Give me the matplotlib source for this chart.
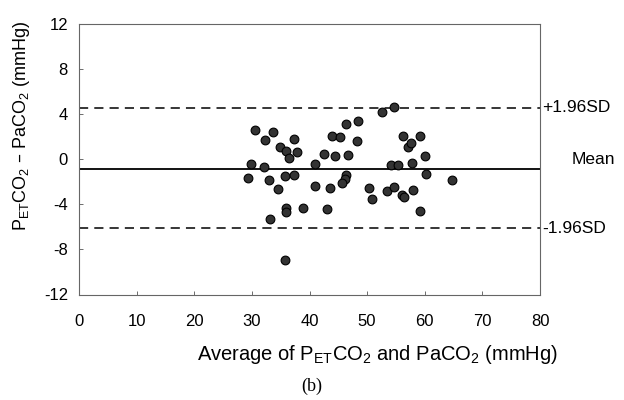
import numpy as np
import matplotlib.pyplot as plt

# Bland-Altman data
avg = [29.3, 29.9, 30.6, 32.2, 32.1, 33.0, 33.7, 34.6, 34.8, 35.9,
       36.4, 37.3, 37.9, 35.8, 37.3, 35.9, 35.9, 33.2, 38.8, 35.7,
       41.0, 41.0, 43.1, 43.5, 42.6, 43.9, 45.3, 46.3, 48.5, 48.3,
       44.4, 46.7, 46.3, 46.1, 45.7, 50.4, 50.8, 52.6, 54.6, 56.2,
       59.1, 57.1, 57.7, 60.1, 57.8, 54.1, 55.4, 60.3, 64.7, 53.4,
       54.6, 56.0, 56.4, 58.0, 59.1]
diff = [-1.64, -0.39, 2.62, 1.68, -0.69, -1.84, 2.39, -2.67, 1.09, 0.76,
        0.14, 1.80, 0.62, -1.51, -1.37, -4.35, -4.71, -5.28, -4.35, -8.94,
        -2.35, -0.39, -4.44, -2.52, 0.44, 2.06, 1.95, 3.13, 3.37, 1.59,
        0.29, 0.40, -1.37, -1.78, -2.08, -2.55, -3.50, 4.19, 4.66, 2.06,
        2.06, 1.09, 1.40, 0.26, -0.31, -0.51, -0.51, -1.28, -1.84, -2.82,
        -2.46, -3.20, -3.32, -2.70, -4.60]

mean_diff = -0.85
upper = 4.55
lower = -6.1

xticks = [0, 10, 20, 30, 40, 50, 60, 70, 80]
yticks = [-12, -8, -4, 0, 4, 8, 12]

plt.rcParams['font.family'] = ['Liberation Sans', 'DejaVu Sans']
plt.rcParams['axes.unicode_minus'] = False

fig = plt.figure(figsize=(6.24, 4.0), dpi=100)
ax = fig.add_axes([79/624, 1-294.5/400, 461/624, 270.5/400])

ax.plot(avg, diff, 'o', ms=6.3, mfc='#333333', mec='black', mew=0.8, zorder=3)
ax.axhline(mean_diff, color='black', lw=1.3)
ax.axhline(upper, color='black', lw=1.1, ls=(0, (6, 4)))
ax.axhline(lower, color='black', lw=1.1, ls=(0, (6, 4)))

ax.set_xlim(0, 80)
ax.set_ylim(-12, 12)
ax.set_xticks(xticks)
ax.set_yticks(yticks)
ax.tick_params(direction='in', length=3, labelsize=12, width=0.6, color='#555555')
ax.tick_params(axis='x', pad=14)
ax.tick_params(axis='y', pad=8)
for s in ax.spines.values():
    s.set_color('#666666')
    s.set_linewidth(0.8)

# labels on the right
trans = ax.get_yaxis_transform()
ax.text(1.005, upper, '+1.96SD', transform=trans, ha='left', va='center', fontsize=12.5)
ax.text(1.115, mean_diff + 0.85, 'Mean', transform=trans, ha='center', va='center', fontsize=12.5)
ax.text(1.005, lower, '-1.96SD', transform=trans, ha='left', va='center', fontsize=12.5)

fig.text(22/624, 1-126/400, 'P$_{\\mathregular{ET}}$CO$_{\\mathregular{2}}$ \u2013 PaCO$_{\\mathregular{2}}$ (mmHg)',
         rotation=90, ha='center', va='center', fontsize=13)
fig.text(377/624, 1-355/400, 'Average of P$_{\\mathregular{ET}}$CO$_{\\mathregular{2}}$ and PaCO$_{\\mathregular{2}}$ (mmHg)',
         ha='center', va='center', fontsize=14.5)
fig.text(312/624, 1-386/400, '(b)', ha='center', va='center', fontsize=13,
         family='Liberation Serif')

fig.savefig('out.png', dpi=100)
